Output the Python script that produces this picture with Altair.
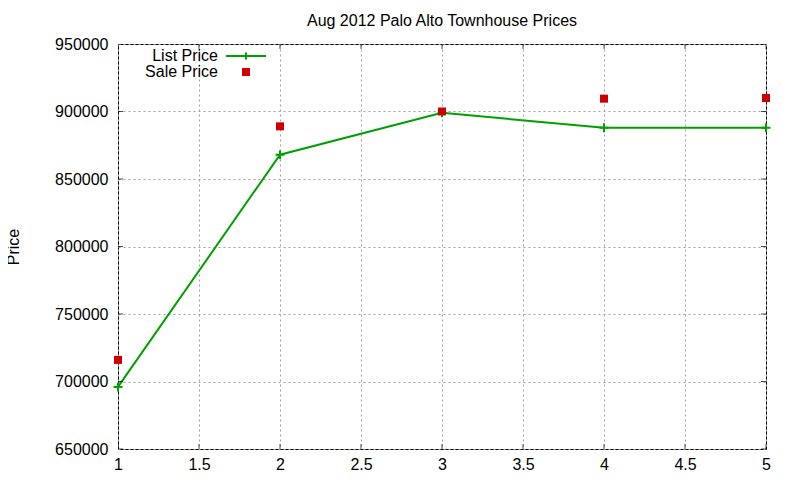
import pandas as pd
import altair as alt

# values
units = [1, 2, 3, 4, 5]
list_price = [696000, 868000, 899000, 888000, 888000]
sale_price = [716000, 889000, 900000, 909500, 910000]

series_names = ["List Price", "Sale Price"]
series_colors = ["#00a000", "#cc0000"]

x_ticks = [1, 1.5, 2, 2.5, 3, 3.5, 4, 4.5, 5]
y_ticks = [650000, 700000, 750000, 800000, 850000, 900000, 950000]

FONT = "Liberation Sans"
W, H = 648, 405

df_list = pd.DataFrame({"x": units, "price": list_price, "series": series_names[0]})
df_sale = pd.DataFrame({"x": units, "price": sale_price, "series": series_names[1]})
df_all = pd.concat([df_list, df_sale], ignore_index=True)
df_xt = pd.DataFrame({"x": x_ticks})
df_yt = pd.DataFrame({"price": y_ticks})

x_scale = alt.Scale(domain=[1, 5], nice=False, zero=False)
y_scale = alt.Scale(domain=[650000, 950000], nice=False, zero=False)

x_axis = alt.Axis(
    values=x_ticks,
    format="~g",
    title=None,
    grid=True,
    gridDash=[2, 3],
    gridColor="#a0a0a0",
    ticks=False,
    domain=False,
    labelPadding=7,
    labelFontSize=16,
    labelFont=FONT,
    labelColor="black",
    labelFlush=False,
)
y_axis = alt.Axis(
    values=y_ticks,
    format="d",
    title="Price",
    titleFontSize=16,
    titleFont=FONT,
    titleFontWeight="normal",
    titleColor="black",
    titleAngle=270,
    titleX=-105,
    titleY=H / 2,
    titleAlign="center",
    titleBaseline="middle",
    grid=True,
    gridDash=[2, 3],
    gridColor="#a0a0a0",
    ticks=False,
    domain=False,
    labelPadding=10,
    labelFontSize=16,
    labelFont=FONT,
    labelColor="black",
    labelFlush=False,
)
x_enc = alt.X("x:Q", scale=x_scale, axis=x_axis)
y_enc = alt.Y("price:Q", scale=y_scale, axis=y_axis)

line = alt.Chart(df_list).mark_line(color=series_colors[0], strokeWidth=2).encode(x_enc, y_enc)

plus = (
    alt.Chart(df_list)
    .mark_point(
        shape="M-1,0H1M0,-1V1",
        filled=False,
        color=series_colors[0],
        strokeWidth=2,
        size=81,
        opacity=1,
    )
    .encode(x_enc, y_enc)
)

squares = (
    alt.Chart(df_sale)
    .mark_square(color=series_colors[1], size=64, filled=True, opacity=1)
    .encode(x_enc, y_enc)
)

# legend only: label on the left, sample shifted to the right like gnuplot
list_sym = "M4,-0.25H14V0.25H4Z M8.75,-0.9H9.25V0.9H8.75Z"
sale_sym = "M8,-1H10V1H8Z"
legend = alt.Legend(
    title=None,
    orient="none",
    legendX=84,
    legendY=4,
    symbolSize=64,
    symbolOpacity=1,
    symbolStrokeWidth=0,
    labelAlign="right",
    labelOffset=0,
    labelFontSize=16,
    labelFont=FONT,
    labelColor="black",
    rowPadding=0,
    padding=0,
)
key = (
    alt.Chart(df_all)
    .mark_point(filled=True)
    .encode(
        x_enc,
        y_enc,
        color=alt.Color("series:N", scale=alt.Scale(domain=series_names, range=series_colors), legend=legend),
        shape=alt.Shape("series:N", scale=alt.Scale(domain=series_names, range=[list_sym, sale_sym]), legend=legend),
        opacity=alt.value(0),
    )
)

# inward ticks on all four sides of the frame
def y_ticks_at(px):
    return (
        alt.Chart(df_yt)
        .mark_tick(orient="horizontal", size=10, thickness=1, color="black", clip=True)
        .encode(y=y_enc, x=alt.value(px))
    )


def x_ticks_at(px):
    return (
        alt.Chart(df_xt)
        .mark_tick(orient="vertical", size=10, thickness=1, color="black", clip=True)
        .encode(x=x_enc, y=alt.value(px))
    )


chart = (
    alt.layer(
        line, plus, squares, key,
        y_ticks_at(0), y_ticks_at(W), x_ticks_at(H), x_ticks_at(0),
    )
    .properties(
        width=W,
        height=H,
        title=alt.TitleParams(
            "Aug 2012 Palo Alto Townhouse Prices",
            fontSize=16,
            font=FONT,
            fontWeight="normal",
            color="black",
            anchor="middle",
            frame="group",
            baseline="alphabetic",
            offset=0,
            dy=6,
        ),
        padding={"left": 110, "top": 36, "right": 26, "bottom": 23},
        autosize=alt.AutoSizeParams(type="none"),
        background="white",
    )
    .configure_view(stroke="black", strokeWidth=1)
)

chart.save("out.html", embed_options={"renderer": "svg", "actions": False})
